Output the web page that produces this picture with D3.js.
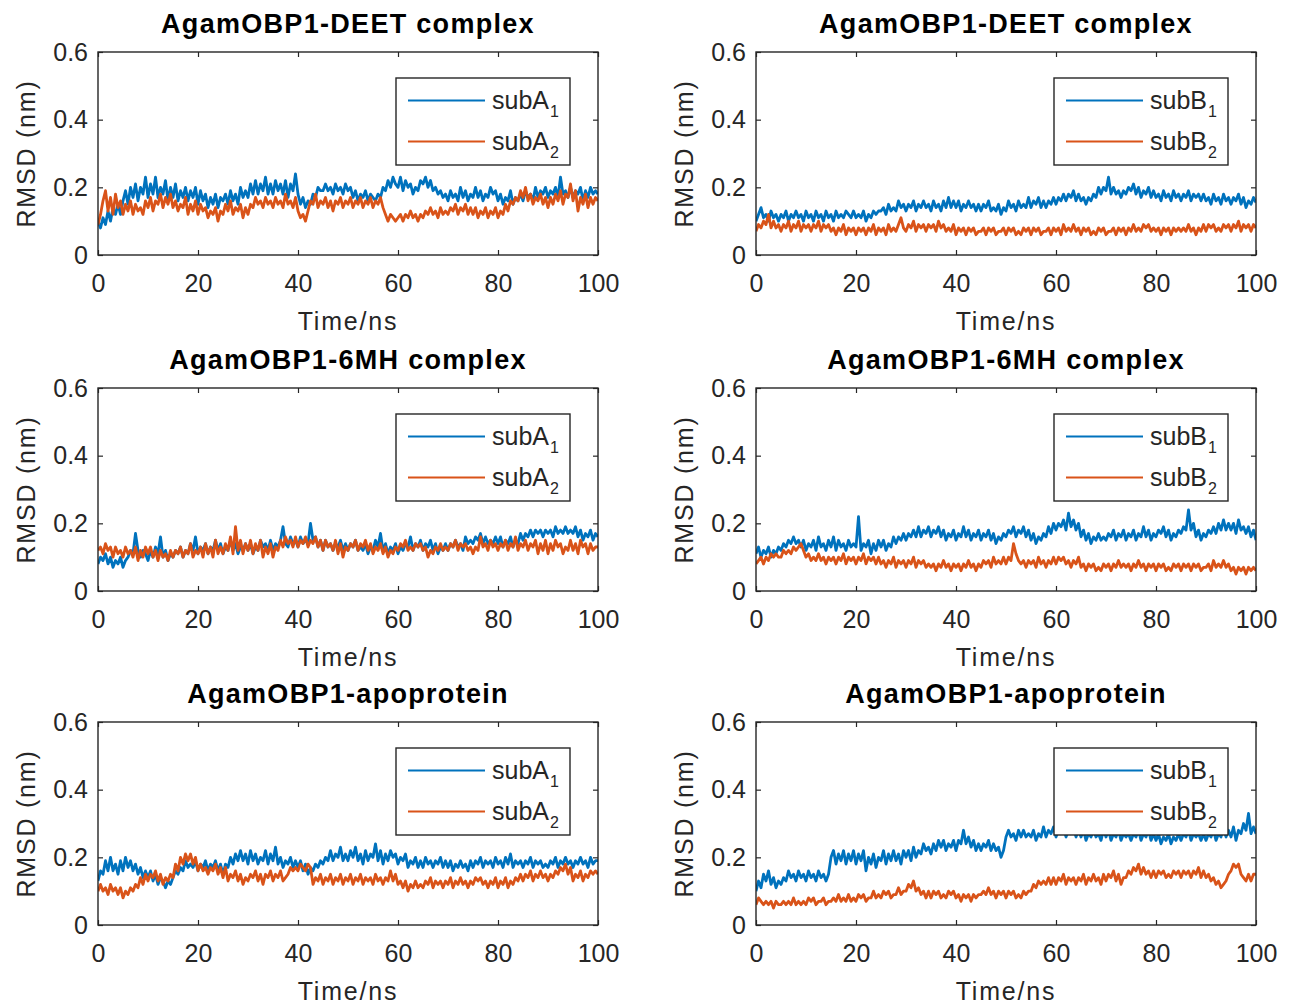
<!DOCTYPE html>
<html><head><meta charset="utf-8">
<script src="https://cdn.jsdelivr.net/npm/d3@7"></script>
<style>body{margin:0;background:#fff}svg{display:block}</style>
</head><body><svg id="chart" width="1299" height="1006"></svg>
<script>
// ---- data (RMSD in nm, sampled every timeStep ns from 0 to 100) ----
const timeStep = 0.5;
const xTicks = [0, 20, 40, 60, 80, 100];
const yTicks = [0, 0.2, 0.4, 0.6];
const xTickLabels = ["0", "20", "40", "60", "80", "100"];
const yTickLabels = ["0", "0.2", "0.4", "0.6"];
const panelTitles = ["AgamOBP1-DEET complex", "AgamOBP1-DEET complex", "AgamOBP1-6MH complex", "AgamOBP1-6MH complex", "AgamOBP1-apoprotein", "AgamOBP1-apoprotein"];
const legendBases = ["subA", "subB", "subA", "subB", "subA", "subB"];
const legendSubs = ["1", "2"];
const xLabel = "Time/ns";
const yLabel = "RMSD (nm)";
const seriesColors = ["#0072BD", "#D95319"];

const deetA1 = [
0.10,0.08,0.11,0.09,0.13,0.10,0.14,0.12,0.15,0.12,
0.16,0.19,0.15,0.20,0.17,0.21,0.16,0.20,0.18,0.23,
0.17,0.21,0.18,0.23,0.17,0.20,0.18,0.22,0.16,0.20,
0.17,0.21,0.16,0.19,0.17,0.20,0.16,0.19,0.17,0.20,
0.15,0.19,0.16,0.18,0.14,0.17,0.15,0.18,0.14,0.17,
0.16,0.18,0.15,0.19,0.16,0.18,0.15,0.20,0.17,0.19,
0.17,0.21,0.18,0.22,0.18,0.21,0.19,0.23,0.18,0.21,
0.18,0.22,0.19,0.21,0.18,0.22,0.17,0.21,0.19,0.24,
0.18,0.15,0.17,0.14,0.16,0.15,0.18,0.17,0.20,0.19,
0.19,0.21,0.19,0.20,0.18,0.21,0.19,0.20,0.18,0.21,
0.19,0.20,0.17,0.19,0.16,0.18,0.17,0.19,0.16,0.18,
0.17,0.16,0.18,0.17,0.20,0.19,0.22,0.20,0.23,0.21,
0.20,0.23,0.19,0.22,0.20,0.21,0.18,0.20,0.19,0.22,
0.21,0.23,0.20,0.22,0.19,0.20,0.18,0.19,0.17,0.18,
0.16,0.19,0.17,0.18,0.16,0.20,0.17,0.19,0.16,0.18,
0.17,0.20,0.17,0.19,0.16,0.18,0.17,0.20,0.18,0.19,
0.16,0.18,0.15,0.17,0.16,0.19,0.15,0.17,0.16,0.18,
0.16,0.19,0.17,0.18,0.16,0.20,0.17,0.19,0.18,0.20,
0.17,0.19,0.18,0.20,0.17,0.23,0.18,0.19,0.17,0.20,
0.17,0.19,0.18,0.20,0.16,0.19,0.17,0.20,0.18,0.19,
0.18];
const deetA2 = [
0.09,0.12,0.16,0.19,0.13,0.17,0.12,0.18,0.14,0.16,
0.12,0.15,0.13,0.16,0.12,0.15,0.13,0.14,0.12,0.16,
0.14,0.17,0.13,0.16,0.15,0.18,0.14,0.17,0.15,0.18,
0.14,0.16,0.13,0.15,0.14,0.17,0.12,0.15,0.13,0.16,
0.12,0.15,0.13,0.14,0.11,0.13,0.12,0.14,0.10,0.13,
0.12,0.15,0.13,0.16,0.12,0.14,0.13,0.15,0.11,0.14,
0.12,0.15,0.14,0.17,0.15,0.16,0.14,0.17,0.15,0.16,
0.14,0.17,0.15,0.16,0.14,0.18,0.15,0.16,0.14,0.17,
0.13,0.11,0.12,0.10,0.13,0.16,0.15,0.18,0.14,0.16,
0.15,0.17,0.14,0.16,0.13,0.16,0.15,0.17,0.14,0.16,
0.15,0.17,0.14,0.16,0.15,0.17,0.14,0.16,0.15,0.17,
0.14,0.16,0.15,0.17,0.14,0.12,0.10,0.12,0.11,0.10,
0.11,0.12,0.10,0.12,0.11,0.13,0.11,0.12,0.10,0.12,
0.11,0.13,0.12,0.14,0.12,0.13,0.11,0.14,0.12,0.13,
0.12,0.14,0.13,0.15,0.12,0.14,0.13,0.15,0.12,0.14,
0.12,0.14,0.11,0.13,0.12,0.14,0.11,0.13,0.12,0.14,
0.11,0.13,0.12,0.15,0.13,0.16,0.15,0.17,0.16,0.19,
0.17,0.20,0.16,0.18,0.15,0.17,0.16,0.18,0.15,0.17,
0.14,0.17,0.15,0.18,0.16,0.19,0.15,0.18,0.17,0.21,
0.16,0.19,0.13,0.17,0.15,0.18,0.14,0.17,0.15,0.17,
0.16];
const deetB1 = [
0.10,0.12,0.14,0.11,0.12,0.10,0.13,0.11,0.12,0.10,
0.12,0.11,0.13,0.10,0.12,0.11,0.13,0.11,0.12,0.10,
0.13,0.11,0.12,0.10,0.13,0.11,0.12,0.10,0.13,0.11,
0.12,0.10,0.13,0.11,0.12,0.11,0.13,0.12,0.11,0.13,
0.11,0.12,0.11,0.13,0.10,0.12,0.11,0.13,0.12,0.13,
0.13,0.14,0.12,0.15,0.13,0.14,0.13,0.16,0.14,0.15,
0.13,0.15,0.14,0.16,0.13,0.15,0.14,0.16,0.14,0.15,
0.13,0.16,0.14,0.15,0.13,0.16,0.14,0.17,0.14,0.16,
0.14,0.16,0.13,0.15,0.14,0.16,0.14,0.15,0.13,0.15,
0.13,0.15,0.14,0.16,0.13,0.14,0.13,0.15,0.12,0.14,
0.13,0.16,0.14,0.15,0.13,0.16,0.14,0.15,0.14,0.17,
0.14,0.16,0.15,0.17,0.14,0.16,0.14,0.16,0.15,0.17,
0.15,0.17,0.16,0.18,0.16,0.18,0.17,0.19,0.16,0.18,
0.16,0.17,0.15,0.17,0.16,0.18,0.17,0.20,0.18,0.20,
0.19,0.23,0.18,0.20,0.18,0.19,0.17,0.19,0.18,0.20,
0.19,0.21,0.18,0.20,0.17,0.19,0.18,0.20,0.17,0.19,
0.17,0.18,0.16,0.19,0.17,0.18,0.16,0.19,0.17,0.18,
0.16,0.18,0.17,0.19,0.16,0.18,0.17,0.18,0.16,0.18,
0.16,0.17,0.15,0.18,0.16,0.17,0.15,0.18,0.16,0.17,
0.15,0.17,0.16,0.18,0.15,0.17,0.14,0.16,0.15,0.17,
0.155];
const deetB2 = [
0.07,0.09,0.08,0.10,0.09,0.12,0.08,0.10,0.08,0.09,
0.07,0.09,0.08,0.10,0.07,0.09,0.08,0.10,0.07,0.09,
0.08,0.09,0.07,0.09,0.08,0.10,0.07,0.09,0.08,0.09,
0.07,0.08,0.06,0.08,0.07,0.09,0.06,0.08,0.07,0.08,
0.06,0.08,0.07,0.08,0.06,0.08,0.07,0.09,0.06,0.08,
0.07,0.08,0.06,0.09,0.07,0.08,0.07,0.09,0.11,0.08,
0.07,0.09,0.08,0.10,0.07,0.09,0.08,0.09,0.07,0.09,
0.08,0.09,0.07,0.10,0.08,0.09,0.07,0.08,0.07,0.09,
0.06,0.08,0.07,0.08,0.06,0.08,0.07,0.08,0.06,0.07,
0.07,0.08,0.06,0.08,0.07,0.08,0.06,0.07,0.07,0.08,
0.06,0.08,0.07,0.08,0.06,0.07,0.06,0.08,0.07,0.08,
0.06,0.08,0.07,0.08,0.06,0.07,0.07,0.08,0.06,0.08,
0.07,0.08,0.06,0.09,0.07,0.08,0.07,0.09,0.07,0.08,
0.06,0.08,0.07,0.08,0.06,0.07,0.06,0.08,0.07,0.08,
0.06,0.07,0.07,0.08,0.06,0.08,0.07,0.08,0.06,0.08,
0.07,0.09,0.07,0.08,0.07,0.09,0.08,0.09,0.07,0.08,
0.07,0.08,0.06,0.08,0.07,0.08,0.06,0.08,0.07,0.08,
0.07,0.08,0.07,0.09,0.07,0.08,0.06,0.08,0.07,0.09,
0.07,0.09,0.08,0.09,0.07,0.08,0.07,0.09,0.08,0.09,
0.07,0.09,0.08,0.10,0.07,0.09,0.08,0.09,0.07,0.09,
0.08];
const mhA1 = [
0.08,0.10,0.09,0.11,0.08,0.10,0.07,0.09,0.08,0.10,
0.07,0.09,0.10,0.12,0.11,0.17,0.12,0.10,0.12,0.11,
0.09,0.12,0.10,0.13,0.11,0.16,0.10,0.12,0.09,0.11,
0.10,0.12,0.11,0.13,0.10,0.12,0.11,0.14,0.12,0.16,
0.11,0.13,0.12,0.14,0.11,0.13,0.12,0.15,0.12,0.14,
0.11,0.13,0.12,0.15,0.12,0.14,0.11,0.13,0.12,0.14,
0.12,0.14,0.11,0.13,0.12,0.15,0.13,0.14,0.12,0.15,
0.12,0.14,0.13,0.15,0.19,0.14,0.13,0.16,0.14,0.15,
0.13,0.16,0.14,0.15,0.14,0.20,0.15,0.16,0.13,0.15,
0.12,0.15,0.13,0.14,0.12,0.14,0.13,0.15,0.12,0.14,
0.12,0.14,0.13,0.15,0.12,0.13,0.12,0.14,0.11,0.13,
0.12,0.15,0.13,0.17,0.12,0.14,0.11,0.13,0.12,0.14,
0.11,0.13,0.12,0.14,0.13,0.16,0.12,0.14,0.13,0.15,
0.12,0.14,0.13,0.15,0.12,0.14,0.11,0.13,0.12,0.14,
0.12,0.14,0.13,0.15,0.13,0.14,0.12,0.16,0.14,0.15,
0.14,0.16,0.15,0.17,0.14,0.16,0.14,0.15,0.14,0.16,
0.14,0.16,0.13,0.15,0.14,0.16,0.13,0.15,0.14,0.17,
0.15,0.17,0.16,0.18,0.16,0.18,0.17,0.18,0.16,0.18,
0.17,0.18,0.16,0.19,0.17,0.18,0.17,0.19,0.17,0.18,
0.17,0.19,0.16,0.18,0.15,0.17,0.16,0.18,0.15,0.17,
0.16];
const mhA2 = [
0.12,0.13,0.11,0.14,0.12,0.13,0.10,0.13,0.11,0.12,
0.10,0.13,0.11,0.12,0.10,0.13,0.09,0.12,0.10,0.13,
0.11,0.13,0.10,0.12,0.09,0.12,0.10,0.11,0.09,0.12,
0.10,0.12,0.11,0.13,0.10,0.12,0.11,0.14,0.10,0.12,
0.11,0.13,0.10,0.14,0.11,0.13,0.10,0.15,0.11,0.13,
0.11,0.14,0.12,0.16,0.11,0.19,0.12,0.15,0.11,0.14,
0.12,0.15,0.11,0.14,0.12,0.15,0.10,0.13,0.11,0.14,
0.10,0.13,0.12,0.15,0.13,0.16,0.14,0.15,0.13,0.16,
0.13,0.15,0.14,0.16,0.13,0.15,0.14,0.16,0.13,0.15,
0.12,0.15,0.13,0.14,0.12,0.15,0.11,0.14,0.10,0.13,
0.12,0.14,0.13,0.15,0.12,0.14,0.13,0.15,0.12,0.14,
0.11,0.13,0.12,0.14,0.11,0.13,0.10,0.12,0.11,0.13,
0.12,0.14,0.13,0.15,0.12,0.13,0.12,0.14,0.13,0.14,
0.12,0.13,0.10,0.12,0.11,0.13,0.12,0.14,0.12,0.13,
0.12,0.14,0.13,0.15,0.12,0.14,0.13,0.14,0.12,0.13,
0.11,0.13,0.12,0.16,0.13,0.14,0.12,0.15,0.13,0.14,
0.12,0.14,0.13,0.15,0.12,0.14,0.13,0.16,0.12,0.14,
0.13,0.15,0.12,0.14,0.13,0.15,0.11,0.14,0.12,0.15,
0.11,0.14,0.12,0.15,0.13,0.14,0.11,0.13,0.12,0.15,
0.12,0.14,0.11,0.15,0.13,0.14,0.11,0.14,0.12,0.13,
0.13];
const mhB1 = [
0.11,0.13,0.10,0.12,0.11,0.13,0.10,0.12,0.11,0.13,
0.12,0.14,0.13,0.15,0.14,0.16,0.14,0.15,0.13,0.15,
0.12,0.14,0.13,0.15,0.12,0.16,0.13,0.14,0.12,0.15,
0.13,0.16,0.12,0.15,0.13,0.14,0.12,0.15,0.13,0.14,
0.13,0.22,0.12,0.14,0.13,0.15,0.11,0.14,0.12,0.15,
0.13,0.15,0.12,0.14,0.13,0.16,0.14,0.16,0.15,0.17,
0.15,0.17,0.16,0.18,0.16,0.19,0.16,0.18,0.17,0.19,
0.16,0.18,0.17,0.19,0.16,0.18,0.15,0.17,0.16,0.18,
0.15,0.17,0.16,0.19,0.16,0.18,0.15,0.17,0.16,0.18,
0.15,0.17,0.16,0.18,0.15,0.17,0.14,0.16,0.15,0.17,
0.16,0.18,0.17,0.19,0.16,0.18,0.17,0.19,0.16,0.18,
0.15,0.17,0.14,0.16,0.15,0.17,0.16,0.19,0.17,0.20,
0.18,0.20,0.19,0.21,0.18,0.23,0.19,0.21,0.18,0.20,
0.16,0.18,0.15,0.17,0.14,0.16,0.15,0.17,0.15,0.16,
0.15,0.17,0.16,0.18,0.15,0.17,0.16,0.18,0.15,0.17,
0.16,0.18,0.15,0.17,0.16,0.19,0.16,0.18,0.15,0.17,
0.16,0.18,0.17,0.19,0.16,0.18,0.15,0.17,0.16,0.18,
0.17,0.19,0.18,0.24,0.18,0.20,0.16,0.18,0.15,0.17,
0.16,0.18,0.17,0.19,0.17,0.20,0.18,0.21,0.18,0.20,
0.18,0.20,0.17,0.21,0.18,0.19,0.17,0.19,0.16,0.18,
0.15];
const mhB2 = [
0.08,0.09,0.10,0.08,0.10,0.09,0.11,0.10,0.11,0.10,
0.10,0.12,0.11,0.12,0.11,0.13,0.12,0.13,0.14,0.12,
0.10,0.11,0.09,0.10,0.09,0.11,0.09,0.10,0.08,0.10,
0.09,0.10,0.08,0.10,0.09,0.11,0.08,0.10,0.09,0.10,
0.08,0.10,0.09,0.11,0.08,0.10,0.09,0.10,0.08,0.10,
0.08,0.09,0.07,0.09,0.08,0.10,0.07,0.09,0.08,0.09,
0.07,0.09,0.08,0.10,0.07,0.09,0.08,0.09,0.07,0.08,
0.07,0.08,0.06,0.08,0.07,0.09,0.07,0.08,0.06,0.08,
0.07,0.08,0.06,0.08,0.07,0.09,0.07,0.08,0.06,0.08,
0.07,0.09,0.08,0.09,0.07,0.10,0.08,0.09,0.08,0.10,
0.08,0.10,0.09,0.14,0.11,0.09,0.08,0.09,0.07,0.09,
0.08,0.09,0.07,0.10,0.08,0.09,0.07,0.09,0.08,0.10,
0.08,0.10,0.09,0.10,0.08,0.09,0.07,0.09,0.08,0.10,
0.07,0.08,0.06,0.08,0.07,0.08,0.06,0.07,0.06,0.08,
0.07,0.08,0.06,0.08,0.07,0.09,0.07,0.08,0.07,0.08,
0.06,0.08,0.07,0.09,0.07,0.08,0.06,0.08,0.07,0.08,
0.06,0.08,0.07,0.08,0.06,0.07,0.06,0.08,0.07,0.08,
0.06,0.08,0.07,0.08,0.06,0.08,0.07,0.08,0.06,0.07,
0.07,0.08,0.06,0.09,0.07,0.08,0.07,0.09,0.07,0.08,
0.06,0.07,0.05,0.07,0.06,0.07,0.05,0.07,0.06,0.07,
0.06];
const apoA1 = [
0.13,0.16,0.15,0.19,0.16,0.20,0.16,0.18,0.15,0.19,
0.16,0.20,0.17,0.19,0.16,0.18,0.15,0.17,0.14,0.16,
0.14,0.16,0.13,0.15,0.12,0.14,0.13,0.11,0.13,0.12,
0.14,0.16,0.15,0.17,0.16,0.19,0.17,0.18,0.17,0.19,
0.16,0.18,0.17,0.19,0.16,0.18,0.17,0.19,0.16,0.18,
0.15,0.18,0.17,0.20,0.18,0.21,0.19,0.22,0.19,0.21,
0.18,0.22,0.19,0.21,0.18,0.20,0.19,0.22,0.18,0.21,
0.19,0.23,0.18,0.20,0.17,0.19,0.18,0.20,0.17,0.19,
0.17,0.19,0.16,0.18,0.15,0.17,0.16,0.18,0.17,0.19,
0.18,0.20,0.19,0.22,0.19,0.21,0.20,0.23,0.19,0.21,
0.19,0.22,0.20,0.23,0.19,0.21,0.18,0.22,0.19,0.21,
0.20,0.24,0.19,0.22,0.18,0.21,0.19,0.22,0.20,0.21,
0.18,0.20,0.19,0.21,0.17,0.19,0.18,0.20,0.17,0.19,
0.17,0.20,0.18,0.19,0.17,0.19,0.18,0.20,0.17,0.19,
0.17,0.19,0.16,0.18,0.17,0.19,0.17,0.18,0.16,0.19,
0.17,0.19,0.18,0.20,0.17,0.19,0.18,0.19,0.17,0.20,
0.18,0.19,0.17,0.20,0.18,0.21,0.17,0.19,0.18,0.19,
0.17,0.19,0.18,0.20,0.17,0.19,0.18,0.19,0.17,0.18,
0.17,0.19,0.18,0.20,0.17,0.19,0.18,0.20,0.18,0.19,
0.17,0.19,0.18,0.20,0.18,0.19,0.17,0.20,0.18,0.19,
0.19];
const apoA2 = [
0.10,0.12,0.10,0.11,0.09,0.12,0.10,0.11,0.09,0.11,
0.08,0.10,0.09,0.11,0.10,0.12,0.11,0.14,0.12,0.15,
0.13,0.15,0.14,0.16,0.13,0.15,0.12,0.14,0.13,0.15,
0.14,0.18,0.16,0.20,0.18,0.21,0.19,0.21,0.18,0.20,
0.16,0.18,0.16,0.17,0.15,0.17,0.16,0.18,0.15,0.17,
0.14,0.17,0.13,0.15,0.14,0.16,0.13,0.15,0.12,0.14,
0.13,0.15,0.14,0.16,0.13,0.15,0.12,0.15,0.14,0.16,
0.13,0.15,0.14,0.16,0.13,0.14,0.15,0.17,0.16,0.17,
0.16,0.18,0.17,0.16,0.18,0.17,0.12,0.14,0.13,0.15,
0.12,0.14,0.13,0.15,0.12,0.14,0.13,0.15,0.12,0.14,
0.13,0.15,0.12,0.14,0.13,0.15,0.12,0.14,0.13,0.14,
0.12,0.15,0.13,0.14,0.12,0.14,0.13,0.16,0.13,0.15,
0.12,0.13,0.11,0.13,0.10,0.12,0.11,0.13,0.11,0.12,
0.11,0.13,0.12,0.14,0.11,0.13,0.12,0.13,0.11,0.13,
0.12,0.14,0.11,0.13,0.12,0.14,0.12,0.13,0.11,0.13,
0.12,0.14,0.13,0.14,0.12,0.13,0.11,0.13,0.12,0.14,
0.11,0.13,0.12,0.14,0.11,0.13,0.12,0.14,0.13,0.15,
0.13,0.15,0.14,0.16,0.13,0.15,0.14,0.16,0.14,0.15,
0.13,0.15,0.14,0.16,0.15,0.17,0.16,0.18,0.15,0.17,
0.13,0.15,0.14,0.16,0.13,0.15,0.14,0.16,0.15,0.16,
0.15];
const apoB1 = [
0.10,0.13,0.11,0.15,0.13,0.16,0.12,0.14,0.11,0.13,
0.12,0.14,0.13,0.16,0.14,0.15,0.13,0.16,0.14,0.15,
0.13,0.16,0.14,0.15,0.13,0.16,0.14,0.15,0.13,0.15,
0.20,0.22,0.18,0.21,0.19,0.22,0.18,0.21,0.19,0.22,
0.18,0.21,0.19,0.22,0.16,0.20,0.18,0.21,0.17,0.20,
0.19,0.22,0.18,0.21,0.19,0.22,0.19,0.21,0.18,0.22,
0.20,0.22,0.19,0.23,0.20,0.22,0.21,0.24,0.22,0.23,
0.21,0.24,0.22,0.25,0.23,0.25,0.22,0.24,0.23,0.25,
0.22,0.25,0.24,0.28,0.24,0.26,0.23,0.25,0.22,0.24,
0.22,0.24,0.23,0.25,0.22,0.24,0.22,0.23,0.20,0.22,
0.26,0.28,0.26,0.27,0.25,0.28,0.26,0.28,0.26,0.27,
0.26,0.28,0.25,0.27,0.26,0.29,0.26,0.28,0.27,0.29,
0.26,0.28,0.27,0.29,0.26,0.28,0.27,0.29,0.26,0.28,
0.26,0.28,0.25,0.27,0.26,0.28,0.26,0.27,0.25,0.28,
0.26,0.28,0.25,0.27,0.26,0.28,0.25,0.27,0.26,0.27,
0.25,0.27,0.26,0.28,0.25,0.27,0.26,0.28,0.25,0.27,
0.25,0.27,0.24,0.26,0.25,0.27,0.24,0.26,0.25,0.27,
0.25,0.27,0.26,0.28,0.25,0.27,0.26,0.27,0.25,0.27,
0.25,0.27,0.26,0.28,0.25,0.27,0.26,0.29,0.26,0.28,
0.26,0.29,0.25,0.28,0.27,0.30,0.28,0.33,0.27,0.29,
0.27];
const apoB2 = [
0.06,0.08,0.07,0.06,0.07,0.06,0.07,0.05,0.07,0.06,
0.06,0.07,0.06,0.07,0.06,0.08,0.06,0.07,0.06,0.07,
0.06,0.08,0.07,0.08,0.06,0.07,0.07,0.08,0.06,0.07,
0.07,0.08,0.07,0.09,0.07,0.08,0.07,0.09,0.07,0.08,
0.07,0.09,0.08,0.09,0.07,0.08,0.08,0.10,0.08,0.09,
0.08,0.10,0.09,0.10,0.08,0.09,0.09,0.11,0.09,0.10,
0.10,0.12,0.11,0.13,0.10,0.11,0.09,0.10,0.08,0.10,
0.08,0.10,0.09,0.10,0.08,0.09,0.08,0.10,0.09,0.10,
0.08,0.09,0.07,0.09,0.08,0.09,0.07,0.09,0.08,0.09,
0.09,0.10,0.09,0.11,0.09,0.10,0.08,0.10,0.09,0.10,
0.08,0.10,0.09,0.10,0.08,0.09,0.08,0.10,0.09,0.10,
0.10,0.12,0.11,0.13,0.12,0.13,0.12,0.14,0.12,0.14,
0.12,0.14,0.13,0.15,0.12,0.14,0.13,0.14,0.12,0.14,
0.13,0.15,0.12,0.14,0.13,0.15,0.13,0.14,0.12,0.15,
0.13,0.15,0.14,0.16,0.13,0.15,0.12,0.14,0.14,0.16,
0.15,0.17,0.16,0.18,0.15,0.17,0.15,0.16,0.14,0.16,
0.14,0.16,0.15,0.16,0.14,0.15,0.14,0.16,0.15,0.16,
0.14,0.16,0.15,0.16,0.14,0.16,0.15,0.17,0.14,0.16,
0.14,0.15,0.13,0.14,0.12,0.13,0.11,0.12,0.13,0.15,
0.16,0.18,0.17,0.18,0.15,0.14,0.13,0.15,0.13,0.15,
0.15];

// ---- panel table built from the arrays ----
const panels = [
  { title: panelTitles[0], base: legendBases[0], series: [deetA1, deetA2] },
  { title: panelTitles[1], base: legendBases[1], series: [deetB1, deetB2] },
  { title: panelTitles[2], base: legendBases[2], series: [mhA1, mhA2] },
  { title: panelTitles[3], base: legendBases[3], series: [mhB1, mhB2] },
  { title: panelTitles[4], base: legendBases[4], series: [apoA1, apoA2] },
  { title: panelTitles[5], base: legendBases[5], series: [apoB1, apoB2] }
];

// ---- layout ----
const FONT = "'Liberation Sans', Arial, Helvetica, sans-serif";
const INK = "#262626";
const colLeft = [98, 756];
const rowTop = [52, 388, 722];
const PW = 500, PH = 203;

const svg = d3.select("#chart");
svg.append("rect").attr("width", 1299).attr("height", 1006).attr("fill", "#fff");

panels.forEach((p, i) => {
  const left = colLeft[i % 2];
  const top = rowTop[Math.floor(i / 2)];
  const x = d3.scaleLinear().domain([0, 100]).range([left, left + PW]);
  const y = d3.scaleLinear().domain([0, 0.6]).range([top + PH, top]);
  const g = svg.append("g");

  const clipId = "clip" + i;
  g.append("clipPath").attr("id", clipId).append("rect")
    .attr("x", left).attr("y", top).attr("width", PW).attr("height", PH);

  const line = d3.line().x((d, j) => x(j * timeStep)).y(d => y(d));
  p.series.forEach((vals, k) => {
    g.append("path").attr("d", line(vals))
      .attr("clip-path", `url(#${clipId})`)
      .attr("fill", "none").attr("stroke", seriesColors[k])
      .attr("stroke-width", 2.8).attr("stroke-linejoin", "round");
  });

  // axes (ticks inward, MATLAB style)
  const bottom = g.append("g").attr("transform", `translate(0,${top + PH})`)
    .call(d3.axisBottom(x).tickValues(xTicks).tickFormat((d, j) => xTickLabels[j])
      .tickSizeInner(-5).tickSizeOuter(0).tickPadding(19));
  const leftAx = g.append("g").attr("transform", `translate(${left},0)`)
    .call(d3.axisLeft(y).tickValues(yTicks).tickFormat((d, j) => yTickLabels[j])
      .tickSizeInner(-5).tickSizeOuter(0).tickPadding(10));
  const topAx = g.append("g").attr("transform", `translate(0,${top})`)
    .call(d3.axisTop(x).tickValues(xTicks).tickFormat("").tickSizeInner(-5).tickSizeOuter(0));
  const rightAx = g.append("g").attr("transform", `translate(${left + PW},0)`)
    .call(d3.axisRight(y).tickValues(yTicks).tickFormat("").tickSizeInner(-5).tickSizeOuter(0));
  [bottom, leftAx, topAx, rightAx].forEach(a => {
    a.select(".domain").remove();
    a.selectAll(".tick line").attr("stroke", INK).attr("stroke-width", 1.2);
    a.selectAll(".tick text").attr("fill", INK).attr("font-family", FONT).attr("font-size", 25);
  });

  g.append("rect").attr("x", left).attr("y", top).attr("width", PW).attr("height", PH)
    .attr("fill", "none").attr("stroke", INK).attr("stroke-width", 1.4);

  // title
  g.append("text").attr("x", left + PW / 2).attr("y", top - 19)
    .attr("text-anchor", "middle").attr("font-family", FONT).attr("font-weight", "bold")
    .attr("font-size", 27).attr("letter-spacing", 1.3).attr("fill", "#000").text(p.title);

  // x label
  g.append("text").attr("x", left + PW / 2).attr("y", top + PH + 75)
    .attr("text-anchor", "middle").attr("font-family", FONT).attr("font-size", 25)
    .attr("letter-spacing", 1.8).attr("fill", INK).text(xLabel);

  // y label
  g.append("text").attr("transform", `translate(${left - 63},${top + PH / 2}) rotate(-90)`)
    .attr("text-anchor", "middle").attr("font-family", FONT).attr("font-size", 25)
    .attr("letter-spacing", 1.8).attr("fill", INK).text(yLabel);

  // legend
  const lx = left + 298, ly = top + 26;
  g.append("rect").attr("x", lx).attr("y", ly).attr("width", 174).attr("height", 87)
    .attr("fill", "#fff").attr("stroke", INK).attr("stroke-width", 1.4);
  p.series.forEach((vals, k) => {
    const yy = ly + 22.5 + k * 41;
    g.append("line").attr("x1", lx + 12).attr("x2", lx + 89).attr("y1", yy).attr("y2", yy)
      .attr("stroke", seriesColors[k]).attr("stroke-width", 2.2);
    const t = g.append("text").attr("x", lx + 96).attr("y", yy + 8)
      .attr("font-family", FONT).attr("font-size", 25).attr("fill", INK);
    t.append("tspan").text(p.base);
    t.append("tspan").attr("dx", 1).attr("dy", 8).attr("font-size", 16).text(legendSubs[k]);
  });
});
</script>
</body></html>
